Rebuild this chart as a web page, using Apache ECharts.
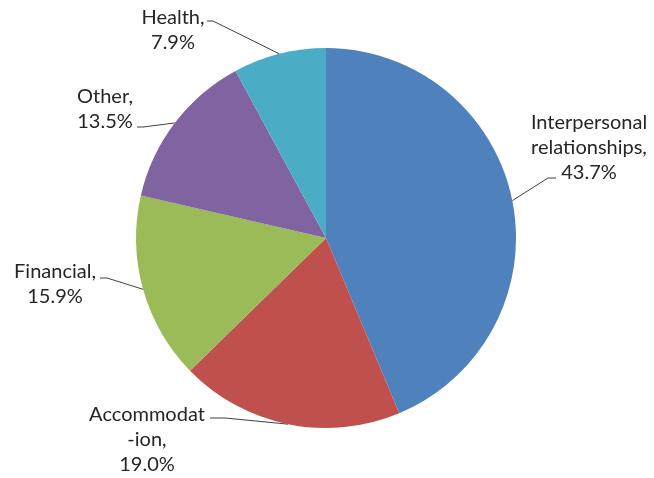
<!DOCTYPE html>
<html>
<head>
<meta charset="utf-8">
<script src="https://cdn.jsdelivr.net/npm/echarts@6/dist/echarts.min.js"></script>
<style>
html,body{margin:0;padding:0;background:#fff;}
#chart{width:654px;height:478px;}
</style>
</head>
<body>
<div id="chart"></div>
<script>
const categories = ['Interpersonal\nrelationships', 'Accommodat\n-ion', 'Financial', 'Other', 'Health'];
const values = [43.7, 19.0, 15.9, 13.5, 7.9];
const colors = ['#4F81BD', '#C0504D', '#9BBB59', '#8064A2', '#4BACC6'];

// label placement (layout only)
const labelPlacement = [
  { x: 589, y: 148, bend: [548, 178], end: [556, 178] },
  { x: 147, y: 440, bend: [225, 418], end: [210, 418] },
  { x: 55,  y: 284, bend: [107, 278], end: [100, 278] },
  { x: 105, y: 109, bend: [143, 127], end: [137, 127] },
  { x: 173, y: 30,  bend: [213, 21],  end: [207, 21] }
];

const chart = echarts.init(document.getElementById('chart'));
chart.setOption({
  animation: false,
  series: [{
    type: 'pie',
    center: [326, 238],
    radius: 190,
    startAngle: 90,
    clockwise: true,
    data: categories.map((c, i) => ({ name: c, value: values[i], itemStyle: { color: colors[i] } })),
    itemStyle: { borderWidth: 0 },
    label: {
      show: true,
      position: 'outside',
      fontFamily: 'Lato',
      fontSize: 20,
      lineHeight: 25,
      color: '#262626',
      align: 'center',
      overflow: 'none',
      width: 200,
      formatter: p => p.name + ',\n' + p.value.toFixed(1) + '%'
    },
    labelLine: {
      show: true,
      length: 10,
      length2: 10,
      lineStyle: { color: '#404040', width: 1 }
    },
    labelLayout: function (params) {
      const L = labelPlacement[params.dataIndex];
      const start = params.labelLinePoints ? params.labelLinePoints[0] : L.bend;
      return {
        x: L.x,
        y: L.y,
        align: 'center',
        verticalAlign: 'middle',
        labelLinePoints: [start, L.bend, L.end]
      };
    }
  }]
});
</script>
</body>
</html>
